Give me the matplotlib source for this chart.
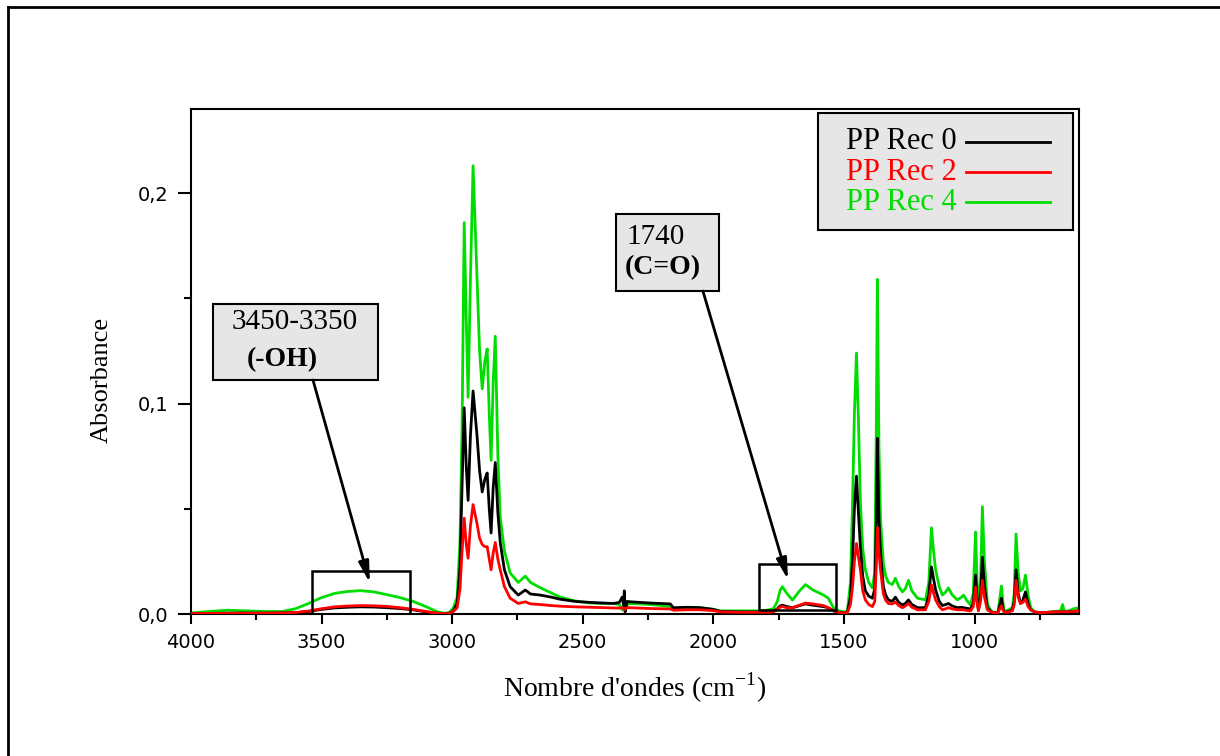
import matplotlib
matplotlib.use("Agg")
import matplotlib.pyplot as plt
from matplotlib.patches import Rectangle
from matplotlib.lines import Line2D
from matplotlib.ticker import MultipleLocator, FuncFormatter

# ---------------- data ----------------
wavenumber = [
    4000, 3930, 3860, 3790, 3720, 3650, 3600, 3550, 3500, 3450, 3400, 3350, 3300, 3250,
    3200, 3150, 3100, 3060, 3030, 3010, 2995, 2981, 2970, 2962, 2954, 2946, 2939, 2930,
    2920, 2905, 2895, 2885, 2875, 2866, 2858, 2851, 2843, 2835, 2825, 2816, 2800, 2778,
    2747, 2720, 2700, 2663, 2620, 2586, 2530, 2471, 2420, 2383, 2360, 2349, 2343, 2341,
    2338, 2330, 2318, 2280, 2240, 2200, 2165, 2153, 2100, 2050, 2000, 1973, 1900, 1830,
    1800, 1770, 1755, 1745, 1736, 1720, 1697, 1670, 1647, 1620, 1578, 1560, 1540, 1520,
    1500, 1487, 1475, 1467, 1460, 1452, 1444, 1437, 1428, 1418, 1405, 1391, 1382, 1376,
    1372, 1366, 1360, 1349, 1340, 1330, 1315, 1303, 1290, 1276, 1265, 1253, 1240, 1218,
    1200, 1188, 1175, 1165, 1157, 1149, 1135, 1123, 1110, 1100, 1085, 1065, 1050, 1042,
    1030, 1015, 1005, 996, 990, 985, 977, 970, 962, 951, 940, 927, 910, 897,
    890, 885, 870, 855, 848, 841, 833, 824, 815, 805, 795, 785, 770, 747,
    720, 690, 670, 663, 656, 640, 620, 600,
]

pp_rec_4 = [
    0.0005, 0.0012, 0.0018, 0.0015, 0.0012, 0.0012, 0.0025, 0.0050, 0.0078, 0.0098, 0.0107, 0.0111, 0.0105, 0.0092,
    0.0078, 0.0060, 0.0035, 0.0012, 0.0003, 0.0008, 0.0030, 0.0080, 0.0350, 0.0900, 0.1860, 0.1400, 0.1030, 0.1600,
    0.2130, 0.1600, 0.1250, 0.1070, 0.1200, 0.1260, 0.0950, 0.0730, 0.1100, 0.1320, 0.0750, 0.0460, 0.0300, 0.0195,
    0.0150, 0.0180, 0.0150, 0.0125, 0.0100, 0.0080, 0.0062, 0.0052, 0.0050, 0.0050, 0.0045, 0.0020, 0.0030, 0.0040,
    0.0020, 0.0045, 0.0050, 0.0048, 0.0045, 0.0040, 0.0036, 0.0020, 0.0030, 0.0030, 0.0022, 0.0015, 0.0015, 0.0015,
    0.0017, 0.0025, 0.0060, 0.0110, 0.0130, 0.0100, 0.0066, 0.0110, 0.0140, 0.0115, 0.0090, 0.0075, 0.0030, 0.0015,
    0.0010, 0.0012, 0.0150, 0.0530, 0.0950, 0.1240, 0.0900, 0.0530, 0.0310, 0.0210, 0.0150, 0.0124, 0.0200, 0.0900,
    0.1590, 0.0800, 0.0450, 0.0240, 0.0180, 0.0150, 0.0140, 0.0170, 0.0130, 0.0105, 0.0120, 0.0160, 0.0110, 0.0075,
    0.0070, 0.0067, 0.0150, 0.0410, 0.0300, 0.0210, 0.0130, 0.0090, 0.0105, 0.0124, 0.0090, 0.0067, 0.0080, 0.0090,
    0.0065, 0.0043, 0.0100, 0.0390, 0.0150, 0.0030, 0.0150, 0.0510, 0.0250, 0.0050, 0.0020, 0.0005, 0.0010, 0.0133,
    0.0040, 0.0010, 0.0020, 0.0030, 0.0100, 0.0380, 0.0200, 0.0110, 0.0120, 0.0185, 0.0090, 0.0030, 0.0010, 0.0005,
    0.0008, 0.0012, 0.0015, 0.0045, 0.0012, 0.0015, 0.0025, 0.0030,
]

pp_rec_0 = [
    0.0002, 0.0003, 0.0004, 0.0004, 0.0004, 0.0005, 0.0006, 0.0012, 0.0022, 0.0029, 0.0032, 0.0034, 0.0033, 0.0030,
    0.0026, 0.0020, 0.0010, 0.0004, 0.0001, 0.0004, 0.0015, 0.0050, 0.0220, 0.0620, 0.0980, 0.0700, 0.0540, 0.0850,
    0.1060, 0.0850, 0.0680, 0.0580, 0.0640, 0.0670, 0.0500, 0.0385, 0.0600, 0.0720, 0.0480, 0.0340, 0.0210, 0.0130,
    0.0090, 0.0114, 0.0095, 0.0090, 0.0080, 0.0070, 0.0060, 0.0055, 0.0052, 0.0050, 0.0055, 0.0080, 0.0040, 0.0110,
    0.0010, 0.0060, 0.0058, 0.0055, 0.0052, 0.0050, 0.0048, 0.0030, 0.0032, 0.0030, 0.0022, 0.0012, 0.0010, 0.0010,
    0.0010, 0.0012, 0.0025, 0.0038, 0.0042, 0.0036, 0.0030, 0.0040, 0.0048, 0.0042, 0.0035, 0.0030, 0.0015, 0.0008,
    0.0005, 0.0008, 0.0080, 0.0260, 0.0500, 0.0655, 0.0470, 0.0320, 0.0180, 0.0110, 0.0085, 0.0075, 0.0120, 0.0450,
    0.0835, 0.0450, 0.0290, 0.0130, 0.0090, 0.0067, 0.0060, 0.0080, 0.0055, 0.0043, 0.0050, 0.0067, 0.0045, 0.0030,
    0.0030, 0.0030, 0.0090, 0.0224, 0.0170, 0.0114, 0.0060, 0.0040, 0.0045, 0.0050, 0.0038, 0.0030, 0.0032, 0.0030,
    0.0027, 0.0024, 0.0050, 0.0185, 0.0070, 0.0020, 0.0090, 0.0270, 0.0130, 0.0030, 0.0015, 0.0005, 0.0008, 0.0075,
    0.0020, 0.0008, 0.0012, 0.0020, 0.0060, 0.0210, 0.0100, 0.0050, 0.0065, 0.0105, 0.0050, 0.0020, 0.0010, 0.0006,
    0.0008, 0.0010, 0.0010, 0.0012, 0.0010, 0.0010, 0.0012, 0.0015,
]

pp_rec_2 = [
    0.0002, 0.0003, 0.0003, 0.0004, 0.0004, 0.0005, 0.0007, 0.0014, 0.0025, 0.0034, 0.0038, 0.0040, 0.0039, 0.0036,
    0.0030, 0.0022, 0.0012, 0.0004, 0.0001, 0.0003, 0.0012, 0.0030, 0.0120, 0.0300, 0.0455, 0.0330, 0.0265, 0.0420,
    0.0520, 0.0430, 0.0360, 0.0330, 0.0320, 0.0320, 0.0260, 0.0210, 0.0290, 0.0340, 0.0260, 0.0210, 0.0130, 0.0075,
    0.0050, 0.0058, 0.0048, 0.0045, 0.0040, 0.0037, 0.0034, 0.0032, 0.0030, 0.0029, 0.0028, 0.0030, 0.0025, 0.0028,
    0.0022, 0.0030, 0.0030, 0.0028, 0.0026, 0.0025, 0.0024, 0.0018, 0.0020, 0.0020, 0.0016, 0.0010, 0.0008, 0.0008,
    0.0008, 0.0010, 0.0022, 0.0032, 0.0036, 0.0030, 0.0030, 0.0042, 0.0052, 0.0048, 0.0040, 0.0030, 0.0015, 0.0008,
    0.0005, 0.0006, 0.0045, 0.0130, 0.0250, 0.0335, 0.0270, 0.0210, 0.0110, 0.0067, 0.0045, 0.0035, 0.0060, 0.0230,
    0.0410, 0.0290, 0.0210, 0.0095, 0.0065, 0.0050, 0.0048, 0.0057, 0.0040, 0.0030, 0.0038, 0.0050, 0.0032, 0.0020,
    0.0020, 0.0020, 0.0060, 0.0138, 0.0100, 0.0067, 0.0035, 0.0020, 0.0025, 0.0030, 0.0024, 0.0020, 0.0020, 0.0020,
    0.0017, 0.0015, 0.0035, 0.0128, 0.0050, 0.0015, 0.0060, 0.0160, 0.0080, 0.0020, 0.0012, 0.0005, 0.0008, 0.0040,
    0.0015, 0.0008, 0.0010, 0.0015, 0.0045, 0.0160, 0.0080, 0.0050, 0.0055, 0.0070, 0.0035, 0.0020, 0.0010, 0.0006,
    0.0008, 0.0010, 0.0010, 0.0012, 0.0010, 0.0010, 0.0012, 0.0015,
]

series_labels = ["PP Rec 0", "PP Rec 2", "PP Rec 4"]
x_ticks = [4000, 3500, 3000, 2500, 2000, 1500, 1000]
y_ticks = [0.0, 0.1, 0.2]

# highlighted bands (wavenumber span, absorbance span)
oh_band = (3536, 3161, 0.0, 0.0204)
co_band = (1824, 1529, 0.002, 0.0238)
oh_text = ["3450-3350", "(-OH)"]
co_text = ["1740", "(C=O)"]

# ---------------- figure ----------------
SERIF = "Liberation Serif"
fig = plt.figure(figsize=(12.2, 7.56), dpi=100)
ax = fig.add_axes([191 / 1220, 1 - 614 / 756, 888 / 1220, 505 / 756])

c_black, c_red, c_green = "#000000", "#ff0000", "#00dd00"
colors = [c_black, c_red, c_green]
lw = 2.0
ax.plot(wavenumber, pp_rec_4, color=c_green, lw=lw, zorder=2, label=series_labels[2])
ax.plot(wavenumber, pp_rec_0, color=c_black, lw=lw, zorder=3, label=series_labels[0])
ax.plot(wavenumber, pp_rec_2, color=c_red, lw=lw, zorder=4, label=series_labels[1])

ax.set_xlim(4000, 600)
ax.set_ylim(0.0, 0.24)

ax.set_xticks(x_ticks)
ax.xaxis.set_minor_locator(MultipleLocator(250))
ax.set_yticks(y_ticks)
ax.yaxis.set_minor_locator(MultipleLocator(0.05))
ax.yaxis.set_major_formatter(FuncFormatter(lambda v, p: f"{v:.1f}".replace(".", ",")))
ax.tick_params(axis="x", which="major", direction="out", length=7.5, width=1.5, pad=6,
               labelsize=14, top=False)
ax.tick_params(axis="x", which="minor", direction="out", length=4, width=1.5, top=False)
ax.tick_params(axis="y", which="major", direction="out", length=9.5, width=1.5, pad=7,
               labelsize=14, right=False)
ax.tick_params(axis="y", which="minor", direction="out", length=5, width=1.5, right=False)
for lab in ax.get_xticklabels() + ax.get_yticklabels():
    lab.set_fontfamily("DejaVu Sans")
for sp in ax.spines.values():
    sp.set_linewidth(1.5)

ax.set_xlabel("Nombre d'ondes (cm$^{\\mathregular{-1}}$)", fontfamily=SERIF, fontsize=20)
ax.xaxis.set_label_coords(0.5, -0.1465)
ax.xaxis.label.set_verticalalignment("center")
ax.set_ylabel("Absorbance", fontfamily=SERIF, fontsize=19)
ax.yaxis.set_label_coords(-0.100, 0.463)
ax.yaxis.label.set_verticalalignment("center")

# legend box drawn by hand (label text followed by its line sample)
ax.add_patch(Rectangle((0.7061, 0.7604), 0.9932 - 0.7061, 0.9921 - 0.7604,
                       transform=ax.transAxes, facecolor="#e6e6e6", edgecolor="black",
                       lw=1.5, zorder=10))
row_y = [0.9347, 0.8752, 0.8158]
for lab, col, yy in zip(series_labels, colors, row_y):
    ax.text(0.7376, yy, lab, transform=ax.transAxes, color=col, fontfamily=SERIF,
            fontsize=22, ha="left", va="center", zorder=11)
    ax.add_line(Line2D([0.8727, 0.9673], [yy, yy], transform=ax.transAxes, color=col,
                       lw=2, zorder=11))

# highlighted bands
for band in (oh_band, co_band):
    x0, x1, y0, y1 = band
    ax.add_patch(Rectangle((x1, y0), x0 - x1, y1 - y0, fill=False, ec="black",
                           lw=1.8, zorder=6))

# annotation boxes (grey) with arrows
def box(xl, xr, yb, yt):
    ax.add_patch(Rectangle((xr, yb), xl - xr, yt - yb, facecolor="#e6e6e6",
                           edgecolor="black", lw=1.5, zorder=7))

box(3916, 3284, 0.1112, 0.1473)
ax.text(3602, 0.1388, oh_text[0], fontfamily=SERIF, fontsize=21, ha="center", va="center", zorder=8)
ax.text(3652, 0.1207, oh_text[1], fontfamily=SERIF, fontsize=20, fontweight="bold",
        ha="center", va="center", zorder=8)

box(2373, 1978, 0.1535, 0.1901)
ax.text(2331, 0.1792, co_text[0], fontfamily=SERIF, fontsize=21, ha="left", va="center", zorder=8)
ax.text(2338, 0.1645, co_text[1], fontfamily=SERIF, fontsize=20, fontweight="bold",
        ha="left", va="center", zorder=8)

arrow = dict(arrowstyle="-|>,head_width=0.22,head_length=0.9", color="black", lw=2,
             shrinkA=0, shrinkB=0, mutation_scale=14)
ax.annotate("", xy=(3315, 0.0147), xytext=(3533, 0.1112), arrowprops=arrow, zorder=9)
ax.annotate("", xy=(1714, 0.0162), xytext=(2040, 0.1535), arrowprops=arrow, zorder=9)

# outer frame (left and top edges)
fig.add_artist(Line2D([8 / 1220, 8 / 1220], [0, 1 - 7 / 756], transform=fig.transFigure,
                      color="black", lw=2))
fig.add_artist(Line2D([8 / 1220, 1], [1 - 7 / 756, 1 - 7 / 756], transform=fig.transFigure,
                      color="black", lw=2))

fig.savefig("out.png", dpi=100)
